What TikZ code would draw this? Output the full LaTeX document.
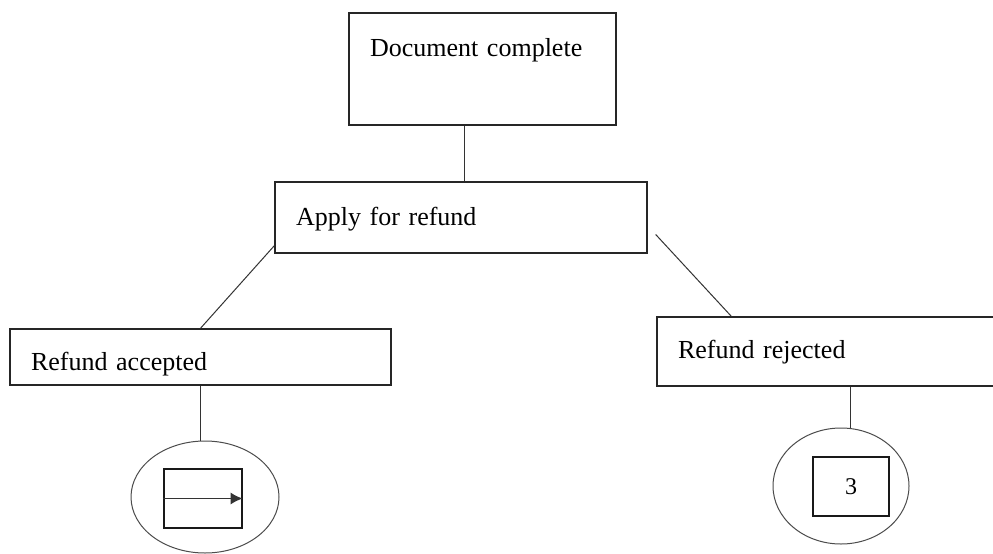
\documentclass[tikz,border=0pt]{standalone}
\usepackage{fontspec}
\setmainfont{Liberation Serif}
\usetikzlibrary{arrows.meta,shapes.geometric}

\begin{document}
\begin{tikzpicture}[x=1pt,y=-1pt]
            \tikzstyle{stage}=[draw=black!85,line width=1.4pt,rectangle,inner xsep=21pt,inner ysep=0pt,align=left,font=\fontsize{26}{30}\selectfont]
            \tikzstyle{oval}=[draw=black!70,line width=1pt,ellipse,inner sep=0pt]
            \tikzstyle{icon}=[draw=black!90,line width=1.3pt,rectangle,inner sep=0pt]
            \tikzstyle{link}=[draw=black!80,line width=1pt]
    \clip (0,0) rectangle (993,554);
    \fill[white] (0,0) rectangle (993,554);
    % boxes
    \node[stage,text width=225pt,text height=43pt,text depth=69pt] (done) at (482.5,69)
      {Document complete};
    \node[stage,text width=330pt,text height=43pt,text depth=28pt] (apply) at (461,217.5)
      {Apply for refund};
    \node[stage,text width=339pt,text height=41pt,text depth=15pt] (accept) at (200.5,357)
      {Refund accepted};
    \node[stage,text width=311pt,text height=41pt,text depth=28pt] (reject) at (833.5,351.5)
      {Refund rejected};
    % end states
    \node[oval,minimum width=148pt,minimum height=112pt] (okend) at (205,497) {};
    \node[icon,minimum width=78pt,minimum height=59pt] (okicon) at (203,498.5) {};
    \node[oval,minimum width=136pt,minimum height=116pt] (noend) at (841,486) {};
    \node[icon,minimum width=76pt,minimum height=59pt,font=\fontsize{24}{28}\selectfont] (noicon) at (851,486.5) {3};
    % links
    \draw[link] ([xshift=-18pt]done.south) -- ([xshift=-18pt]done.south |- apply.north);
    \draw[link] ([yshift=8pt]apply.south west) -- (accept.north);
    \draw[link] ([xshift=8pt,yshift=-17pt]apply.east) -- ([xshift=75pt]reject.north west);
    \draw[link] (accept.south) -- (accept.south |- okend.north);
    \draw[link] ([xshift=9pt]noend.north) -- ([xshift=9pt]noend.north |- reject.south);
    \draw[link,line width=1.4pt,-{Latex[length=12pt,width=12pt]}] (okicon.west) -- (okicon.east);
\end{tikzpicture}
\end{document}
